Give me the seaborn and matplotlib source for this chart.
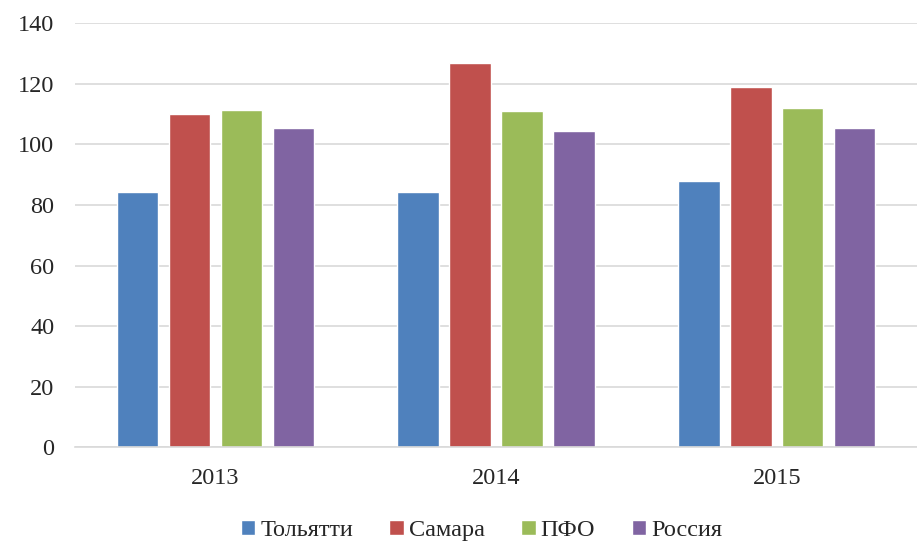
import numpy as np
import pandas as pd
import matplotlib
matplotlib.use("Agg")
import matplotlib.pyplot as plt
import seaborn as sns

# Данные с графика
years = ["2013", "2014", "2015"]
tolyatti = [84.3, 84.3, 87.9]
samara = [110.1, 126.9, 119.1]
pfo = [111.5, 111.1, 112.0]
russia = [105.5, 104.3, 105.5]

series = ["Тольятти", "Самара", "ПФО", "Россия"]
colors = ["#4F81BD", "#C0504D", "#9BBB59", "#8064A2"]

df = pd.DataFrame({
    "year": years * 4,
    "region": np.repeat(series, len(years)),
    "value": tolyatti + samara + pfo + russia,
})

sns.set_theme(style="white")
plt.rcParams["font.family"] = ["Liberation Serif", "DejaVu Serif"]

fig = plt.figure(figsize=(9.17, 5.44), dpi=100)
ax = fig.add_axes([0.082, 0.178, 0.918, 0.779])

sns.barplot(data=df, x="year", y="value", hue="region", hue_order=series,
            palette=colors, width=0.74, gap=0.2, saturation=1, ax=ax)

ax.set_ylim(0, 140)
ax.set_yticks(range(0, 141, 20))
ax.yaxis.grid(True, color="#D9D9D9", linewidth=1.2)
ax.set_axisbelow(True)
for s in ["top", "right", "left"]:
    ax.spines[s].set_visible(False)
ax.spines["bottom"].set_color("#D9D9D9")
ax.spines["bottom"].set_linewidth(1.2)
ax.set_xlabel("")
ax.set_ylabel("")
ax.tick_params(axis="x", labelsize=17.5, pad=15, length=0, colors="#262626")
ax.tick_params(axis="y", labelsize=17.5, pad=15, length=0, colors="#262626")

ax.legend_.remove()
handles, labels = ax.get_legend_handles_labels()
fig.legend(handles, labels, loc="lower center", bbox_to_anchor=(0.525, -0.035),
           ncol=4, frameon=False, fontsize=17.5, handlelength=0.6,
           handleheight=0.6, handletextpad=0.2, columnspacing=1.5)

fig.savefig("out.png", dpi=100)
